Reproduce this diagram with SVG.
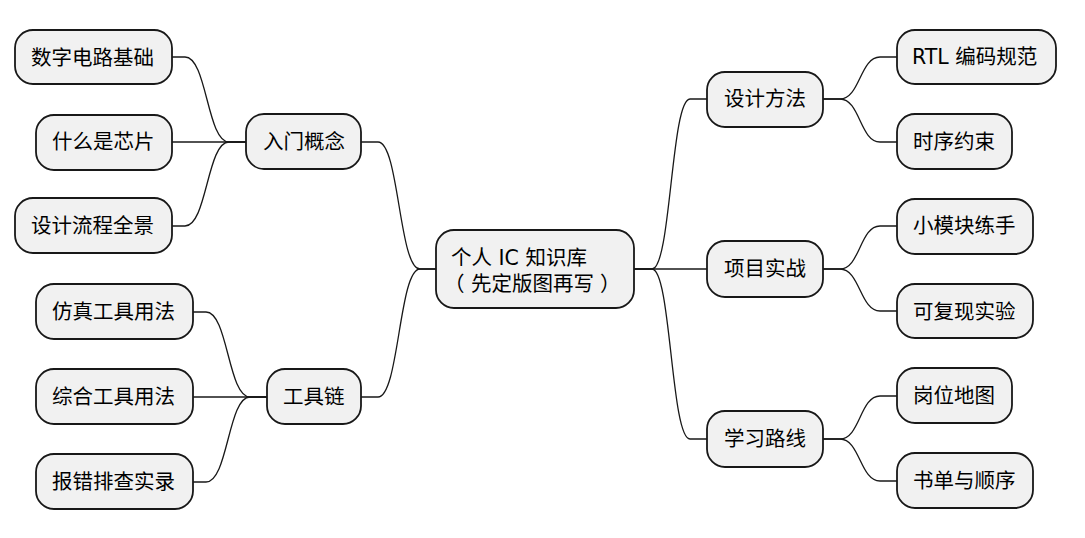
<svg xmlns="http://www.w3.org/2000/svg" width="1085" height="538" viewBox="0 0 1085 538">
<style>
.box{fill:#f1f1f1;stroke:#181818;stroke-width:1.8}
.t{font-family:"DejaVu Sans","Noto Sans CJK SC",sans-serif;font-size:20.5px;fill:#000}
.c{fill:none;stroke:#181818;stroke-width:1.3}
</style>
<rect width="1085" height="538" fill="#ffffff"/>
<g id="connectors">
<path class="c" d="M436,269 L420,269 C399,269 399,142 378,142 L361,142"/>
<path class="c" d="M436,269 L420,269 C399,269 399,397 378,397 L361,397"/>
<path class="c" d="M246,142 L229,142 C207,142 207,57 185,57 L172,57"/>
<path class="c" d="M246,142 L172,142"/>
<path class="c" d="M246,142 L229,142 C207,142 207,226 185,226 L172,226"/>
<path class="c" d="M267,397 L250,397 C228,397 228,312 206,312 L193,312"/>
<path class="c" d="M267,397 L193,397"/>
<path class="c" d="M267,397 L250,397 C228,397 228,482 206,482 L193,482"/>
<path class="c" d="M634,269 L652,269 C671,269 671,99 690,99 L707,99"/>
<path class="c" d="M634,269 L707,269"/>
<path class="c" d="M634,269 L652,269 C671,269 671,439 690,439 L707,439"/>
<path class="c" d="M823,99 L840,99 C860,99 860,57 880,57 L897,57"/>
<path class="c" d="M823,99 L840,99 C860,99 860,142 880,142 L897,142"/>
<path class="c" d="M823,269 L840,269 C860,269 860,226 880,226 L897,226"/>
<path class="c" d="M823,269 L840,269 C860,269 860,311 880,311 L897,311"/>
<path class="c" d="M823,439 L840,439 C860,439 860,396 880,396 L897,396"/>
<path class="c" d="M823,439 L840,439 C860,439 860,481 880,481 L897,481"/>
</g>
<g id="root">
<rect class="box" x="436" y="230" width="198" height="78" rx="18"/>
<text class="t" x="451" y="265">个人 IC 知识库</text>
<text class="t" y="291"><tspan x="444">（</tspan><tspan x="471">先定版图再写</tspan><tspan x="600">）</tspan></text>
</g>
<g id="n-rumen"><rect class="box" x="246" y="114" width="115" height="55" rx="18"/><text class="t" x="263" y="149">入门概念</text></g>
<g id="n-shuzi"><rect class="box" x="15" y="30" width="157" height="54" rx="18"/><text class="t" x="31" y="65">数字电路基础</text></g>
<g id="n-xinpian"><rect class="box" x="36" y="115" width="136" height="55" rx="18"/><text class="t" x="52" y="149">什么是芯片</text></g>
<g id="n-liucheng"><rect class="box" x="15" y="198" width="157" height="55" rx="18"/><text class="t" x="31" y="233">设计流程全景</text></g>
<g id="n-gongju"><rect class="box" x="267" y="369" width="94" height="55" rx="18"/><text class="t" x="283" y="404">工具链</text></g>
<g id="n-fangzhen"><rect class="box" x="36" y="284" width="157" height="55" rx="18"/><text class="t" x="52" y="319">仿真工具用法</text></g>
<g id="n-zonghe"><rect class="box" x="36" y="369" width="157" height="55" rx="18"/><text class="t" x="52" y="404">综合工具用法</text></g>
<g id="n-baocuo"><rect class="box" x="36" y="454" width="157" height="55" rx="18"/><text class="t" x="52" y="489">报错排查实录</text></g>
<g id="n-sheji"><rect class="box" x="707" y="72" width="116" height="55" rx="18"/><text class="t" x="724" y="106">设计方法</text></g>
<g id="n-rtl"><rect class="box" x="897" y="30" width="159" height="54" rx="18"/><text class="t" x="912" y="64">RTL 编码规范</text></g>
<g id="n-shixu"><rect class="box" x="897" y="114" width="115" height="55" rx="18"/><text class="t" x="913" y="149">时序约束</text></g>
<g id="n-xiangmu"><rect class="box" x="707" y="241" width="116" height="56" rx="18"/><text class="t" x="724" y="276">项目实战</text></g>
<g id="n-xiaomokuai"><rect class="box" x="897" y="199" width="136" height="55" rx="18"/><text class="t" x="913" y="233">小模块练手</text></g>
<g id="n-fuxian"><rect class="box" x="897" y="284" width="136" height="54" rx="18"/><text class="t" x="913" y="319">可复现实验</text></g>
<g id="n-xuexi"><rect class="box" x="707" y="411" width="116" height="56" rx="18"/><text class="t" x="724" y="446">学习路线</text></g>
<g id="n-gangwei"><rect class="box" x="897" y="368" width="115" height="55" rx="18"/><text class="t" x="913" y="403">岗位地图</text></g>
<g id="n-shudan"><rect class="box" x="897" y="453" width="136" height="55" rx="18"/><text class="t" x="913" y="488">书单与顺序</text></g>
</svg>
